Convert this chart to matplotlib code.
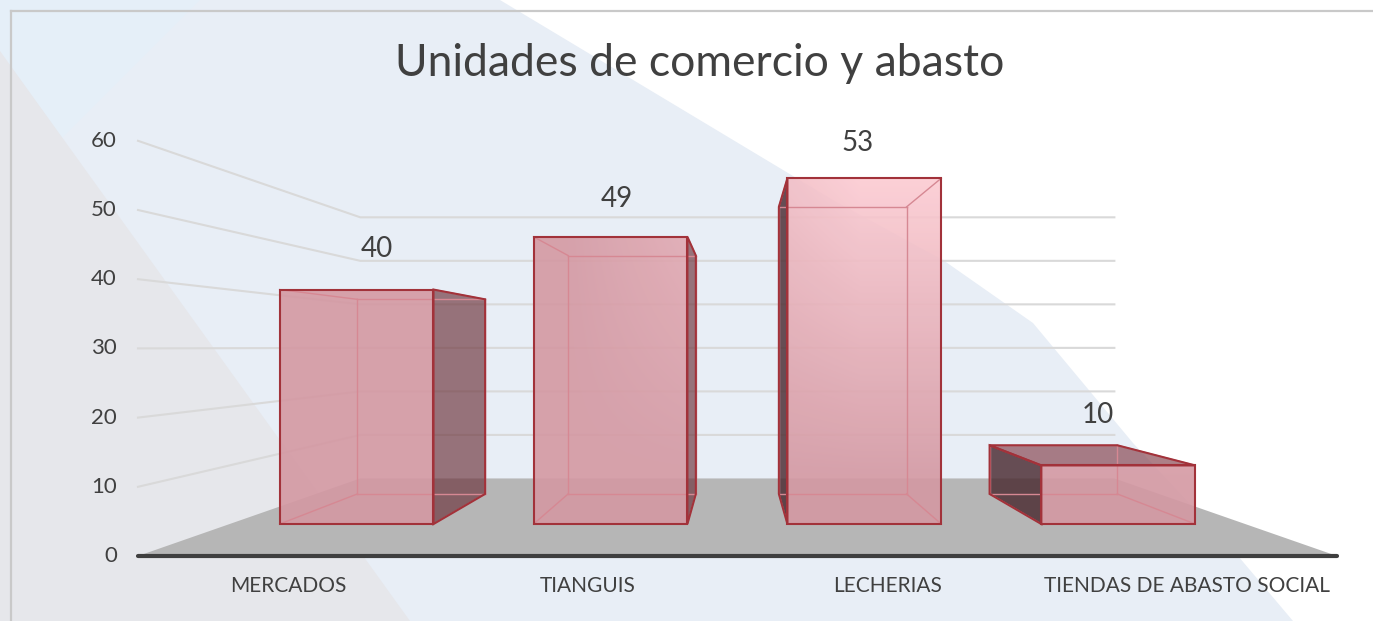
import numpy as np
import matplotlib
matplotlib.use("Agg")
import matplotlib.pyplot as plt
from matplotlib.patches import Polygon, Rectangle

plt.rcParams["font.family"] = ["Lato", "DejaVu Sans"]

categories = ["MERCADOS", "TIANGUIS", "LECHERIAS", "TIENDAS DE ABASTO SOCIAL"]
# heights as drawn in the picture (the LECHERIAS bar reaches ~59 while its label says 53)
bar_heights = [40, 49, 59, 10]
value_labels = ["40", "49", "53", "10"]
y_ticks = [0, 10, 20, 30, 40, 50, 60]
title = "Unidades de comercio y abasto"

W, H = 1373, 621
TEXT = "#404040"

# one-point perspective scene, front plane in pixels
VP = (737, 347)
FRONT_X = (138, 1337)
FRONT_Y0 = 556
PX_PER_UNIT = 6.92
DEPTH_K = 0.59        # back wall = 1/(1+K) of the front plane
BAR_HALF = 0.303      # in category units
BAR_Z = (0.306, 0.716)
LABEL_Z = 0.42


def proj(cx, v, z):
    xf = FRONT_X[0] + cx * (FRONT_X[1] - FRONT_X[0]) / len(categories)
    yf = FRONT_Y0 - v * PX_PER_UNIT
    s = 1.0 / (1.0 + DEPTH_K * z)
    return VP[0] + (xf - VP[0]) * s, VP[1] + (yf - VP[1]) * s


fig = plt.figure(figsize=(W / 100, H / 100), dpi=100)
ax = fig.add_axes([0, 0, 1, 1])
ax.set_xlim(0, W)
ax.set_ylim(H, 0)
ax.axis("off")

# background shapes
ax.add_patch(Rectangle((0, 0), W, H, color="#e8eef6", zorder=0))
ax.add_patch(Polygon([(0, 0), (200, 0), (60, 140), (0, 51)], color="#e5eff8", zorder=0.1, lw=0))
ax.add_patch(Polygon([(500, 0), (833, 200), (943, 260), (1033, 323), (1133, 443),
                      (1233, 550), (1293, 621), (W, H), (W, 0)], color="white", zorder=0.2, lw=0))
ax.add_patch(Polygon([(0, 51), (410, 621), (0, 621)], color="#e6e7eb", zorder=0.2, lw=0))
ax.plot([11, W], [11, 11], color="#c9c9c9", lw=1.6, zorder=0.5)
ax.plot([11, 11], [11, H], color="#c9c9c9", lw=1.6, zorder=0.5)

# gridlines: left wall + back wall
n = len(categories)
for t in y_ticks[1:]:
    p0, p1, p2 = proj(0, t, 0), proj(0, t, 1), proj(n, t, 1)
    ax.plot([p0[0], p1[0], p2[0]], [p0[1], p1[1], p2[1]], color="#d9d9d9", lw=1.5, zorder=1)

# floor
floor = [proj(0, 0, 0), proj(n, 0, 0), proj(n, 0, 1), proj(0, 0, 1)]
ax.add_patch(Polygon(floor, color="#b6b6b6", lw=0, zorder=2))
a, b = proj(0, 0, 0), proj(n, 0, 0)
ax.plot([a[0], b[0]], [a[1], b[1]], color="#3f3f3f", lw=3, solid_capstyle="round", zorder=3)

for t in y_ticks:
    x, y = proj(0, t, 0)
    ax.text(x - 21, y, str(t), ha="right", va="center", fontsize=16, color=TEXT)

for i, c in enumerate(categories):
    x, y = proj(i + 0.5, 0, 0)
    ax.text(x, y + 30, c, ha="center", va="center", fontsize=15, color=TEXT)

# gradient used for the front faces (lighter toward the upper right of the plot)
yy, xx = np.mgrid[0:H, 0:W]
tt = (np.clip((480 - yy) / 300.0, 0, 1) * np.clip((xx - 560) / 300.0, 0, 1))[..., None]
base = np.array([212, 152, 162]) / 255.0
light = np.array([252, 203, 210]) / 255.0
grad = np.concatenate([base + (light - base) * tt, np.full((H, W, 1), 0.9)], axis=2)

EDGE_DARK = "#a2323a"
EDGE_LIGHT = "#d68893"

for i, h in enumerate(bar_heights):
    xl, xr = i + 0.5 - BAR_HALF, i + 0.5 + BAR_HALF
    z0, z1 = BAR_Z
    corners = {"bl": (xl, 0), "br": (xr, 0), "tr": (xr, h), "tl": (xl, h)}
    F = {k: proj(cx, v, z0) for k, (cx, v) in corners.items()}
    B = {k: proj(cx, v, z1) for k, (cx, v) in corners.items()}
    zb = 10 + i

    right_side = proj(i + 0.5, 0, z0)[0] < VP[0]
    if right_side:
        side = [F["tr"], B["tr"], B["br"], F["br"]]
        ax.add_patch(Polygon(side, facecolor="#6a3038", alpha=0.65, lw=0, zorder=zb))
    else:
        side = [F["tl"], B["tl"], B["bl"], F["bl"]]
        ax.add_patch(Polygon(side, facecolor="#4a2a30", alpha=0.82, lw=0, zorder=zb))

    top_visible = (FRONT_Y0 - h * PX_PER_UNIT) > VP[1]
    top = [F["tl"], F["tr"], B["tr"], B["tl"]]
    if top_visible:
        ax.add_patch(Polygon(top, facecolor="#8a4a55", alpha=0.7, lw=0, zorder=zb + 0.1))

    front = [F["bl"], F["br"], F["tr"], F["tl"]]
    clip = Polygon(front, transform=ax.transData, lw=0, fill=False)
    ax.add_patch(clip)
    im = ax.imshow(grad, extent=(0, W, H, 0), zorder=zb + 0.2, interpolation="bilinear")
    im.set_clip_path(clip)

    # all edges (light), then silhouette (dark)
    edges = [(B["bl"], B["br"]), (B["br"], B["tr"]), (B["tr"], B["tl"]), (B["tl"], B["bl"]),
             (F["bl"], B["bl"]), (F["br"], B["br"]), (F["tr"], B["tr"]), (F["tl"], B["tl"])]
    for p, q in edges:
        ax.plot([p[0], q[0]], [p[1], q[1]], color=EDGE_LIGHT, lw=1.0, zorder=zb + 0.3)
    outlines = [front, side] + ([top] if top_visible else [])
    for poly in outlines:
        ax.add_patch(Polygon(poly, closed=True, fill=False, edgecolor=EDGE_DARK, lw=1.5,
                             joinstyle="miter", zorder=zb + 0.4))

    lx, ly = proj(i + 0.5, h, LABEL_Z)
    ax.text(lx, ly - 44, value_labels[i], ha="center", va="center", fontsize=20,
            color=TEXT, zorder=30)

ax.text(W / 2 + 13, 63, title, ha="center", va="center", fontsize=32, color=TEXT, zorder=30)

fig.savefig("out.png", dpi=100)
